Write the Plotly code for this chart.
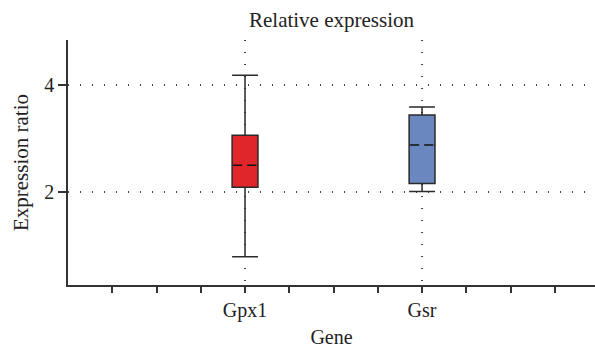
import plotly.graph_objects as go

# ---- data ----
genes = ["Gpx1", "Gsr"]
q1 = [2.09, 2.16]
median = [2.50, 2.88]
q3 = [3.06, 3.44]
lower = [0.79, 2.01]
upper = [4.18, 3.59]
colors = ["#E1262B", "#6A88BF"]

positions = [i + 1 for i in range(len(genes))]
box_w = 0.146

fig = go.Figure()
for g, p, a, m, b, lo, hi, c in zip(genes, positions, q1, median, q3, lower, upper, colors):
    fig.add_trace(go.Box(
        x=[p], q1=[a], median=[m], q3=[b], lowerfence=[lo], upperfence=[hi],
        name=g, width=box_w, whiskerwidth=1,
        fillcolor=c, line=dict(color="#2a2a2a", width=1.5),
        boxpoints=False, showlegend=False,
    ))

# median overlays: cover solid median with fill colour, then dashed line
for p, m, c in zip(positions, median, colors):
    inset = 0.006
    fig.add_trace(go.Scatter(
        x=[p - box_w / 2 + inset, p + box_w / 2 - inset], y=[m, m], mode="lines",
        line=dict(color=c, width=3), showlegend=False, hoverinfo="skip"))
    fig.add_trace(go.Scatter(
        x=[p - box_w / 2 + inset, p + box_w / 2 - inset], y=[m, m], mode="lines",
        line=dict(color="#111111", width=1.5, dash="9px,5px"), showlegend=False, hoverinfo="skip"))

font_family = "Liberation Serif"
txt = "#222222"
fig.update_layout(
    template="none",
    width=595, height=348,
    margin=dict(l=68, r=0, t=40, b=63),
    paper_bgcolor="white", plot_bgcolor="white",
    font=dict(family=font_family, size=20, color=txt),
    title=dict(text="Relative expression", x=0.5, xref="paper", xanchor="center",
               y=1 - 20 / 348, yref="container", yanchor="middle",
               font=dict(size=21, family=font_family, color=txt)),
    xaxis=dict(
        automargin=False,
        range=[0, 2.977], tickmode="array", tickvals=positions, ticktext=genes,
        ticks="outside", ticklen=6, tickwidth=1.5, tickcolor="#333333",
        showgrid=True, gridcolor="#444444", gridwidth=1.5, griddash="1px,11px",
        showline=True, linecolor="#333333", linewidth=1.5, zeroline=False,
        minor=dict(tickvals=[i * 0.25 for i in range(1, 12)], ticks="outside",
                   ticklen=6, tickwidth=1.5, tickcolor="#333333", showgrid=False),
        title=dict(text="Gene", standoff=13, font=dict(size=20, color=txt)),
        tickfont=dict(size=20, color=txt),
    ),
    yaxis=dict(
        automargin=False,
        range=[0.262, 4.841], tickmode="array", tickvals=[2, 4],
        ticks="outside", ticklen=8, tickwidth=1.5, tickcolor="#333333",
        showgrid=True, gridcolor="#444444", gridwidth=1.5, griddash="1px,11px",
        showline=True, linecolor="#333333", linewidth=1.5, zeroline=False,
        title=dict(text="Expression ratio", standoff=10, font=dict(size=21, color=txt)),
        tickfont=dict(size=20, color=txt),
    ),
)

fig.write_html("out.html", config={"displayModeBar": False},
               post_script="document.body.style.margin='0';")
